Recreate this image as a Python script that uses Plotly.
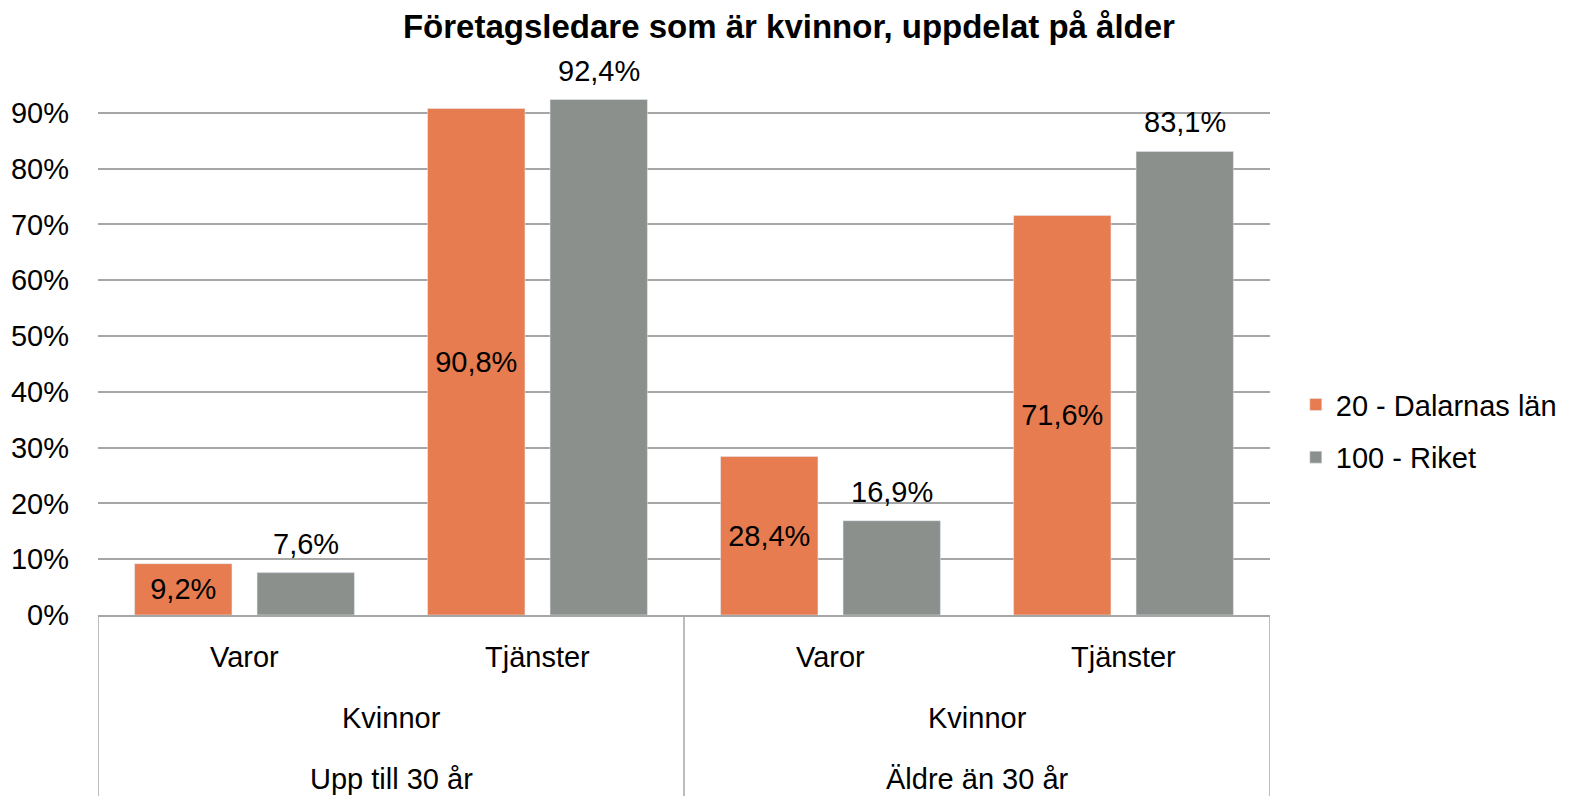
import plotly.graph_objects as go

categories = ["Varor", "Tjänster", "Varor", "Tjänster"]
mid_labels = ["Kvinnor", "Kvinnor"]
top_labels = ["Upp till 30 år", "Äldre än 30 år"]
series_names = ["20 - Dalarnas län", "100 - Riket"]
dalarna = [9.2, 90.8, 28.4, 71.6]
riket = [7.6, 92.4, 16.9, 83.1]
tick_vals = [0, 10, 20, 30, 40, 50, 60, 70, 80, 90]
tick_text = [f"{v}%" for v in tick_vals]

FONT = "Liberation Sans, Arial, sans-serif"
FS = 29
ORANGE = "#E67C4F"
GREY = "#8C908D"
GRID = "#A6A6A6"

def fmt(v):
    return f"{v:.1f}".replace(".", ",") + "%"

# page body has an 8px default margin; figure is sized to fill the rest
W, H = 1565, 788
ml, mr, mt, mb = 90, 303, 77, 181
plot_w = W - ml - mr
plot_h = H - mt - mb
BARGAP, BARGROUPGAP = 0.164, 0.205
slot = (1 - BARGAP) / 2
grey_offset = slot / 2
xs = list(range(len(categories)))

fig = go.Figure()
fig.add_trace(go.Bar(
    x=xs, y=dalarna, name=series_names[0], marker_color=ORANGE,
    legendgroup="a",
    text=[fmt(v) for v in dalarna], textposition="inside", insidetextanchor="middle",
    textfont=dict(size=FS, color="black", family=FONT), textangle=0,
))
fig.add_trace(go.Bar(
    x=xs, y=riket, name=series_names[1], marker_color=GREY,
    legendgroup="b",
))

annotations = []
for i, v in enumerate(riket):
    annotations.append(dict(x=xs[i] + grey_offset, y=v, xref="x", yref="y", text=fmt(v),
                            showarrow=False, yanchor="bottom", yshift=11,
                            font=dict(size=FS, family=FONT, color="black")))
for i, lab in enumerate(categories):
    annotations.append(dict(x=xs[i], y=0, yref="paper", xref="x", text=lab,
                            showarrow=False, yanchor="middle", yshift=-42,
                            font=dict(size=FS, family=FONT, color="black")))
for j, lab in enumerate(mid_labels):
    annotations.append(dict(x=0.5 + 2 * j, y=0, yref="paper", xref="x", text=lab,
                            showarrow=False, yanchor="middle", yshift=-103,
                            font=dict(size=FS, family=FONT, color="black")))
for j, lab in enumerate(top_labels):
    annotations.append(dict(x=0.5 + 2 * j, y=0, yref="paper", xref="x", text=lab,
                            showarrow=False, yanchor="middle", yshift=-164,
                            font=dict(size=FS, family=FONT, color="black")))

shapes = []
for xv in [-0.5, 1.5, 3.5]:
    shapes.append(dict(type="line", xref="x", yref="paper", x0=xv, x1=xv,
                       y0=0, y1=-mb / plot_h, line=dict(color=GRID, width=1.5)))

fig.update_layout(
    width=W, height=H,
    margin=dict(l=ml, r=mr, t=mt, b=mb, pad=0, autoexpand=False),
    paper_bgcolor="white", plot_bgcolor="white",
    barmode="group", bargap=BARGAP, bargroupgap=BARGROUPGAP,
    title=dict(text="<b>Företagsledare som är kvinnor, uppdelat på ålder</b>",
               x=0.499, xanchor="center", y=1 - 18 / H, yanchor="middle",
               font=dict(size=33, family=FONT, color="black")),
    font=dict(family=FONT, size=FS, color="black"),
    xaxis=dict(showticklabels=False, showgrid=False, zeroline=False,
               showline=True, linecolor=GRID, linewidth=2, ticks="",
               range=[-0.5, 3.5], automargin=False),
    yaxis=dict(range=[0, 95], tickvals=tick_vals, ticktext=tick_text,
               showgrid=True, gridcolor=GRID, gridwidth=2, zeroline=False,
               showline=False, ticks="", ticklabelstandoff=28, automargin=False,
               tickfont=dict(size=FS, family=FONT, color="black")),
    legend=dict(x=1.022, xanchor="left", y=0.347, yanchor="middle",
                font=dict(size=FS, family=FONT, color="black"),
                tracegroupgap=12),
    annotations=annotations,
    shapes=shapes,
)
fig.update_traces(cliponaxis=False)

fig.write_html("out.html")
